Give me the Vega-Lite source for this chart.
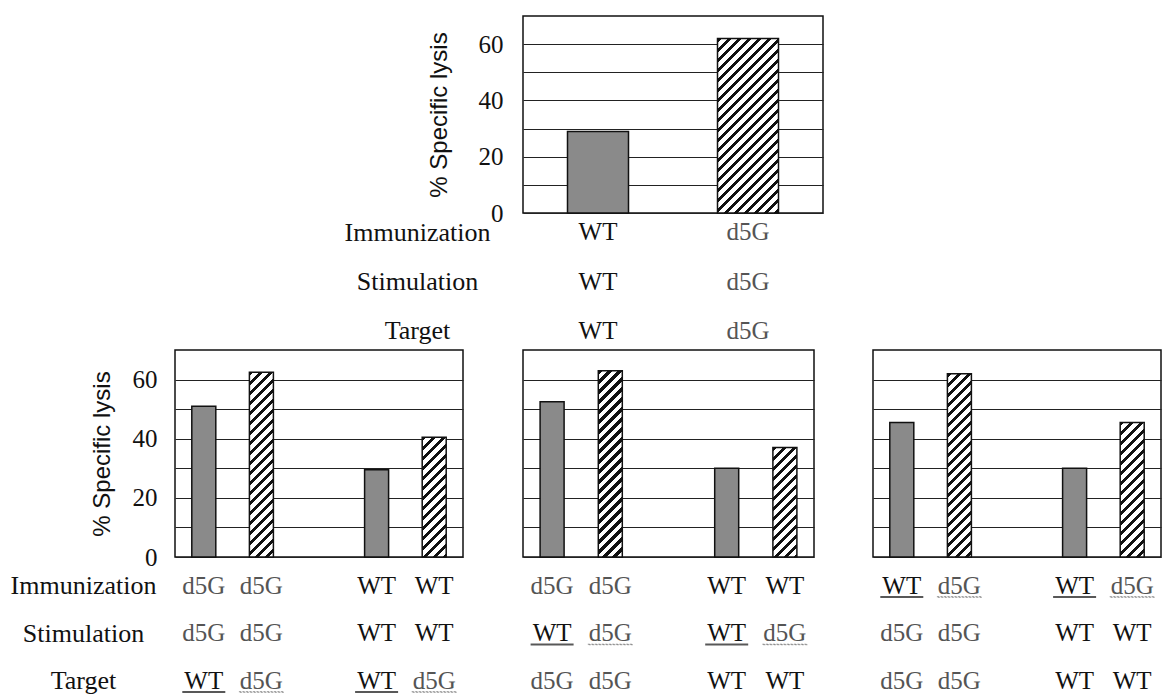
{
"$schema": "https://vega.github.io/schema/vega-lite/v6.json",
"background": "white",
"padding": {"left": 10, "top": 15, "right": 0, "bottom": 0},
"datasets": {
"top": [
{"slot": "WT", "Immunization": "WT", "Stimulation": "WT", "Target": "WT", "lysis": 29, "varied": "WT"},
{"slot": "d5G", "Immunization": "d5G", "Stimulation": "d5G", "Target": "d5G", "lysis": 62, "varied": "d5G"}
],
"p1": [
{"slot": "1", "Immunization": "d5G", "Stimulation": "d5G", "Target": "WT", "lysis": 51, "varied": "WT", "ul": "Target"},
{"slot": "2", "Immunization": "d5G", "Stimulation": "d5G", "Target": "d5G", "lysis": 62.5, "varied": "d5G", "ul": "Target"},
{"slot": "3", "Immunization": "WT", "Stimulation": "WT", "Target": "WT", "lysis": 29.5, "varied": "WT", "ul": "Target"},
{"slot": "4", "Immunization": "WT", "Stimulation": "WT", "Target": "d5G", "lysis": 40.5, "varied": "d5G", "ul": "Target"}
],
"p2": [
{"slot": "1", "Immunization": "d5G", "Stimulation": "WT", "Target": "d5G", "lysis": 52.5, "varied": "WT", "ul": "Stimulation"},
{"slot": "2", "Immunization": "d5G", "Stimulation": "d5G", "Target": "d5G", "lysis": 63, "varied": "d5G", "ul": "Stimulation"},
{"slot": "3", "Immunization": "WT", "Stimulation": "WT", "Target": "WT", "lysis": 30, "varied": "WT", "ul": "Stimulation"},
{"slot": "4", "Immunization": "WT", "Stimulation": "d5G", "Target": "WT", "lysis": 37, "varied": "d5G", "ul": "Stimulation"}
],
"p3": [
{"slot": "1", "Immunization": "WT", "Stimulation": "d5G", "Target": "d5G", "lysis": 45.5, "varied": "WT", "ul": "Immunization"},
{"slot": "2", "Immunization": "d5G", "Stimulation": "d5G", "Target": "d5G", "lysis": 62, "varied": "d5G", "ul": "Immunization"},
{"slot": "3", "Immunization": "WT", "Stimulation": "WT", "Target": "WT", "lysis": 30, "varied": "WT", "ul": "Immunization"},
{"slot": "4", "Immunization": "d5G", "Stimulation": "WT", "Target": "WT", "lysis": 45.5, "varied": "d5G", "ul": "Immunization"}
]
},
"columns": 3,
"spacing": {"row": 0, "column": 50},
"align": "each",
"bounds": "flush",
"concat": [
{"width": 298, "height": 1, "view": {"stroke": null}, "data": {"values": []}, "mark": "point", "encoding": {}},
{
"width": 300, "height": 197,
"data": {"name": "top"},
"encoding": {
"x": {"field": "slot", "type": "nominal", "scale": {"domain": ["WT", "d5G"], "paddingInner": 0, "paddingOuter": 0}, "axis": null},
"y": {"field": "lysis", "type": "quantitative", "scale": {"domain": [0, 70], "nice": false},
"axis": {"values": [0, 10, 20, 30, 40, 50, 60], "labelExpr": "datum.value % 20 == 0 ? datum.label : ''", "grid": true, "gridColor": "#222", "gridWidth": 1, "ticks": false, "tickSize": 0, "domain": false, "labelPadding": 20, "labelFontSize": 25, "labelColor": "#111", "labelFont": "Liberation Serif", "title": "% Specific lysis", "titleFont": "Liberation Sans", "titleFontSize": 24, "titleFontWeight": "normal", "titleColor": "#111", "titlePadding": 27}}
},
"layer": [
{"transform": [{"filter": "datum.varied == 'WT'"}], "mark": {"type": "bar", "width": 61, "fill": "#8a8a8a", "stroke": "#111", "strokeWidth": 1.5}},
{"transform": [{"filter": "datum.varied == 'd5G'"}], "mark": {"type": "bar", "width": 61, "stroke": "#111", "strokeWidth": 1.5, "fill": {"gradient": "linear", "x1": 0, "y1": 0, "x2": 0.44633, "y2": 1.27671, "stops": [{"offset":0,"color":"#111"},{"offset":0.017,"color":"#111"},{"offset":0.017,"color":"#fff"},{"offset":0.04,"color":"#fff"},{"offset":0.04,"color":"#111"},{"offset":0.057,"color":"#111"},{"offset":0.057,"color":"#fff"},{"offset":0.08,"color":"#fff"},{"offset":0.08,"color":"#111"},{"offset":0.097,"color":"#111"},{"offset":0.097,"color":"#fff"},{"offset":0.12,"color":"#fff"},{"offset":0.12,"color":"#111"},{"offset":0.137,"color":"#111"},{"offset":0.137,"color":"#fff"},{"offset":0.16,"color":"#fff"},{"offset":0.16,"color":"#111"},{"offset":0.177,"color":"#111"},{"offset":0.177,"color":"#fff"},{"offset":0.2,"color":"#fff"},{"offset":0.2,"color":"#111"},{"offset":0.217,"color":"#111"},{"offset":0.217,"color":"#fff"},{"offset":0.24,"color":"#fff"},{"offset":0.24,"color":"#111"},{"offset":0.257,"color":"#111"},{"offset":0.257,"color":"#fff"},{"offset":0.28,"color":"#fff"},{"offset":0.28,"color":"#111"},{"offset":0.297,"color":"#111"},{"offset":0.297,"color":"#fff"},{"offset":0.32,"color":"#fff"},{"offset":0.32,"color":"#111"},{"offset":0.337,"color":"#111"},{"offset":0.337,"color":"#fff"},{"offset":0.36,"color":"#fff"},{"offset":0.36,"color":"#111"},{"offset":0.377,"color":"#111"},{"offset":0.377,"color":"#fff"},{"offset":0.4,"color":"#fff"},{"offset":0.4,"color":"#111"},{"offset":0.417,"color":"#111"},{"offset":0.417,"color":"#fff"},{"offset":0.44,"color":"#fff"},{"offset":0.44,"color":"#111"},{"offset":0.457,"color":"#111"},{"offset":0.457,"color":"#fff"},{"offset":0.48,"color":"#fff"},{"offset":0.48,"color":"#111"},{"offset":0.497,"color":"#111"},{"offset":0.497,"color":"#fff"},{"offset":0.52,"color":"#fff"},{"offset":0.52,"color":"#111"},{"offset":0.537,"color":"#111"},{"offset":0.537,"color":"#fff"},{"offset":0.56,"color":"#fff"},{"offset":0.56,"color":"#111"},{"offset":0.577,"color":"#111"},{"offset":0.577,"color":"#fff"},{"offset":0.6,"color":"#fff"},{"offset":0.6,"color":"#111"},{"offset":0.617,"color":"#111"},{"offset":0.617,"color":"#fff"},{"offset":0.64,"color":"#fff"},{"offset":0.64,"color":"#111"},{"offset":0.657,"color":"#111"},{"offset":0.657,"color":"#fff"},{"offset":0.68,"color":"#fff"},{"offset":0.68,"color":"#111"},{"offset":0.697,"color":"#111"},{"offset":0.697,"color":"#fff"},{"offset":0.72,"color":"#fff"},{"offset":0.72,"color":"#111"},{"offset":0.737,"color":"#111"},{"offset":0.737,"color":"#fff"},{"offset":0.76,"color":"#fff"},{"offset":0.76,"color":"#111"},{"offset":0.777,"color":"#111"},{"offset":0.777,"color":"#fff"},{"offset":0.8,"color":"#fff"},{"offset":0.8,"color":"#111"},{"offset":0.817,"color":"#111"},{"offset":0.817,"color":"#fff"},{"offset":0.84,"color":"#fff"},{"offset":0.84,"color":"#111"},{"offset":0.857,"color":"#111"},{"offset":0.857,"color":"#fff"},{"offset":0.88,"color":"#fff"},{"offset":0.88,"color":"#111"},{"offset":0.897,"color":"#111"},{"offset":0.897,"color":"#fff"},{"offset":0.92,"color":"#fff"},{"offset":0.92,"color":"#111"},{"offset":0.937,"color":"#111"},{"offset":0.937,"color":"#fff"},{"offset":0.96,"color":"#fff"},{"offset":0.96,"color":"#111"},{"offset":0.977,"color":"#111"},{"offset":0.977,"color":"#fff"},{"offset":1,"color":"#fff"}]}}}
]
},
{"width": 1, "height": 1, "view": {"stroke": null}, "data": {"values": []}, "mark": "point", "encoding": {}},
{"width": 298, "height": 1, "view": {"stroke": null}, "data": {"values": []}, "mark": "point", "encoding": {}},
{
"width": 300, "height": 137, "view": {"stroke": null},
"data": {"name": "top"},
"transform": [{"fold": ["Immunization", "Stimulation", "Target"], "as": ["row", "val"]}],
"mark": {"type": "text", "fontSize": 25, "font": "Liberation Serif", "baseline": "middle"},
"encoding": {
"x": {"field": "slot", "type": "nominal", "scale": {"domain": ["WT", "d5G"], "paddingInner": 0, "paddingOuter": 0}, "axis": null},
"y": {"field": "row", "type": "nominal", "scale": {"type": "point", "domain": ["Immunization", "Stimulation", "Target"], "padding": 0.384}, "axis": {"title": null, "domain": false, "ticks": false, "tickSize": 0, "grid": false, "labelAlign": "center", "labelPadding": 106, "labelFontSize": 26, "labelFont": "Liberation Serif", "labelColor": "#111"}},
"text": {"field": "val"},
"color": {"field": "val", "type": "nominal", "scale": {"domain": ["WT", "d5G"], "range": ["#111", "#555"]}, "legend": null}
}
},
{"width": 1, "height": 1, "view": {"stroke": null}, "data": {"values": []}, "mark": "point", "encoding": {}},
{
"width": 288, "height": 207,
"data": {"name": "p1"},
"encoding": {
"x": {"field": "slot", "type": "nominal", "scale": {"domain": ["1", "2", "g", "3", "4"], "paddingInner": 0, "paddingOuter": 0}, "axis": null},
"y": {"field": "lysis", "type": "quantitative", "scale": {"domain": [0, 70], "nice": false},
"axis": {"values": [0, 10, 20, 30, 40, 50, 60], "labelExpr": "datum.value % 20 == 0 ? datum.label : ''", "grid": true, "gridColor": "#222", "gridWidth": 1, "ticks": false, "tickSize": 0, "domain": false, "labelPadding": 18, "labelFontSize": 25, "labelColor": "#111", "labelFont": "Liberation Serif", "title": "% Specific lysis", "titleFont": "Liberation Sans", "titleFontSize": 24, "titleFontWeight": "normal", "titleColor": "#111", "titlePadding": 18}}
},
"layer": [
{"transform": [{"filter": "datum.varied == 'WT'"}], "mark": {"type": "bar", "width": 24, "fill": "#8a8a8a", "stroke": "#111", "strokeWidth": 1.5}},
{"transform": [{"filter": "datum.slot == '2'"}], "mark": {"type": "bar", "width": 24, "stroke": "#111", "strokeWidth": 1.5, "fill": {"gradient": "linear", "x1": 0, "y1": 0, "x2": 0.17274, "y2": 1.33024, "stops": [{"offset":0,"color":"#111"},{"offset":0.017,"color":"#111"},{"offset":0.017,"color":"#fff"},{"offset":0.04,"color":"#fff"},{"offset":0.04,"color":"#111"},{"offset":0.057,"color":"#111"},{"offset":0.057,"color":"#fff"},{"offset":0.08,"color":"#fff"},{"offset":0.08,"color":"#111"},{"offset":0.097,"color":"#111"},{"offset":0.097,"color":"#fff"},{"offset":0.12,"color":"#fff"},{"offset":0.12,"color":"#111"},{"offset":0.137,"color":"#111"},{"offset":0.137,"color":"#fff"},{"offset":0.16,"color":"#fff"},{"offset":0.16,"color":"#111"},{"offset":0.177,"color":"#111"},{"offset":0.177,"color":"#fff"},{"offset":0.2,"color":"#fff"},{"offset":0.2,"color":"#111"},{"offset":0.217,"color":"#111"},{"offset":0.217,"color":"#fff"},{"offset":0.24,"color":"#fff"},{"offset":0.24,"color":"#111"},{"offset":0.257,"color":"#111"},{"offset":0.257,"color":"#fff"},{"offset":0.28,"color":"#fff"},{"offset":0.28,"color":"#111"},{"offset":0.297,"color":"#111"},{"offset":0.297,"color":"#fff"},{"offset":0.32,"color":"#fff"},{"offset":0.32,"color":"#111"},{"offset":0.337,"color":"#111"},{"offset":0.337,"color":"#fff"},{"offset":0.36,"color":"#fff"},{"offset":0.36,"color":"#111"},{"offset":0.377,"color":"#111"},{"offset":0.377,"color":"#fff"},{"offset":0.4,"color":"#fff"},{"offset":0.4,"color":"#111"},{"offset":0.417,"color":"#111"},{"offset":0.417,"color":"#fff"},{"offset":0.44,"color":"#fff"},{"offset":0.44,"color":"#111"},{"offset":0.457,"color":"#111"},{"offset":0.457,"color":"#fff"},{"offset":0.48,"color":"#fff"},{"offset":0.48,"color":"#111"},{"offset":0.497,"color":"#111"},{"offset":0.497,"color":"#fff"},{"offset":0.52,"color":"#fff"},{"offset":0.52,"color":"#111"},{"offset":0.537,"color":"#111"},{"offset":0.537,"color":"#fff"},{"offset":0.56,"color":"#fff"},{"offset":0.56,"color":"#111"},{"offset":0.577,"color":"#111"},{"offset":0.577,"color":"#fff"},{"offset":0.6,"color":"#fff"},{"offset":0.6,"color":"#111"},{"offset":0.617,"color":"#111"},{"offset":0.617,"color":"#fff"},{"offset":0.64,"color":"#fff"},{"offset":0.64,"color":"#111"},{"offset":0.657,"color":"#111"},{"offset":0.657,"color":"#fff"},{"offset":0.68,"color":"#fff"},{"offset":0.68,"color":"#111"},{"offset":0.697,"color":"#111"},{"offset":0.697,"color":"#fff"},{"offset":0.72,"color":"#fff"},{"offset":0.72,"color":"#111"},{"offset":0.737,"color":"#111"},{"offset":0.737,"color":"#fff"},{"offset":0.76,"color":"#fff"},{"offset":0.76,"color":"#111"},{"offset":0.777,"color":"#111"},{"offset":0.777,"color":"#fff"},{"offset":0.8,"color":"#fff"},{"offset":0.8,"color":"#111"},{"offset":0.817,"color":"#111"},{"offset":0.817,"color":"#fff"},{"offset":0.84,"color":"#fff"},{"offset":0.84,"color":"#111"},{"offset":0.857,"color":"#111"},{"offset":0.857,"color":"#fff"},{"offset":0.88,"color":"#fff"}]}}},
{"transform": [{"filter": "datum.slot == '4'"}], "mark": {"type": "bar", "width": 24, "stroke": "#111", "strokeWidth": 1.5, "fill": {"gradient": "linear", "x1": 0, "y1": 0, "x2": 0.40219, "y2": 2.00694, "stops": [{"offset":0,"color":"#111"},{"offset":0.017,"color":"#111"},{"offset":0.017,"color":"#fff"},{"offset":0.04,"color":"#fff"},{"offset":0.04,"color":"#111"},{"offset":0.057,"color":"#111"},{"offset":0.057,"color":"#fff"},{"offset":0.08,"color":"#fff"},{"offset":0.08,"color":"#111"},{"offset":0.097,"color":"#111"},{"offset":0.097,"color":"#fff"},{"offset":0.12,"color":"#fff"},{"offset":0.12,"color":"#111"},{"offset":0.137,"color":"#111"},{"offset":0.137,"color":"#fff"},{"offset":0.16,"color":"#fff"},{"offset":0.16,"color":"#111"},{"offset":0.177,"color":"#111"},{"offset":0.177,"color":"#fff"},{"offset":0.2,"color":"#fff"},{"offset":0.2,"color":"#111"},{"offset":0.217,"color":"#111"},{"offset":0.217,"color":"#fff"},{"offset":0.24,"color":"#fff"},{"offset":0.24,"color":"#111"},{"offset":0.257,"color":"#111"},{"offset":0.257,"color":"#fff"},{"offset":0.28,"color":"#fff"},{"offset":0.28,"color":"#111"},{"offset":0.297,"color":"#111"},{"offset":0.297,"color":"#fff"},{"offset":0.32,"color":"#fff"},{"offset":0.32,"color":"#111"},{"offset":0.337,"color":"#111"},{"offset":0.337,"color":"#fff"},{"offset":0.36,"color":"#fff"},{"offset":0.36,"color":"#111"},{"offset":0.377,"color":"#111"},{"offset":0.377,"color":"#fff"},{"offset":0.4,"color":"#fff"},{"offset":0.4,"color":"#111"},{"offset":0.417,"color":"#111"},{"offset":0.417,"color":"#fff"},{"offset":0.44,"color":"#fff"},{"offset":0.44,"color":"#111"},{"offset":0.457,"color":"#111"},{"offset":0.457,"color":"#fff"},{"offset":0.48,"color":"#fff"},{"offset":0.48,"color":"#111"},{"offset":0.497,"color":"#111"},{"offset":0.497,"color":"#fff"},{"offset":0.52,"color":"#fff"},{"offset":0.52,"color":"#111"},{"offset":0.537,"color":"#111"},{"offset":0.537,"color":"#fff"},{"offset":0.56,"color":"#fff"},{"offset":0.56,"color":"#111"},{"offset":0.577,"color":"#111"},{"offset":0.577,"color":"#fff"},{"offset":0.6,"color":"#fff"},{"offset":0.6,"color":"#111"},{"offset":0.617,"color":"#111"},{"offset":0.617,"color":"#fff"},{"offset":0.64,"color":"#fff"}]}}}
]
},
{
"width": 291, "height": 207,
"data": {"name": "p2"},
"encoding": {
"x": {"field": "slot", "type": "nominal", "scale": {"domain": ["1", "2", "g", "3", "4"], "paddingInner": 0, "paddingOuter": 0}, "axis": null},
"y": {"field": "lysis", "type": "quantitative", "scale": {"domain": [0, 70], "nice": false},
"axis": {"values": [0, 10, 20, 30, 40, 50, 60], "grid": true, "gridColor": "#222", "gridWidth": 1, "labels": false, "ticks": false, "tickSize": 0, "domain": false, "title": null}}
},
"layer": [
{"transform": [{"filter": "datum.varied == 'WT'"}], "mark": {"type": "bar", "width": 24, "fill": "#8a8a8a", "stroke": "#111", "strokeWidth": 1.5}},
{"transform": [{"filter": "datum.slot == '2'"}], "mark": {"type": "bar", "width": 24, "stroke": "#111", "strokeWidth": 1.5, "fill": {"gradient": "linear", "x1": 0, "y1": 0, "x2": 0.17005, "y2": 1.31999, "stops": [{"offset":0,"color":"#111"},{"offset":0.017,"color":"#111"},{"offset":0.017,"color":"#fff"},{"offset":0.04,"color":"#fff"},{"offset":0.04,"color":"#111"},{"offset":0.057,"color":"#111"},{"offset":0.057,"color":"#fff"},{"offset":0.08,"color":"#fff"},{"offset":0.08,"color":"#111"},{"offset":0.097,"color":"#111"},{"offset":0.097,"color":"#fff"},{"offset":0.12,"color":"#fff"},{"offset":0.12,"color":"#111"},{"offset":0.137,"color":"#111"},{"offset":0.137,"color":"#fff"},{"offset":0.16,"color":"#fff"},{"offset":0.16,"color":"#111"},{"offset":0.177,"color":"#111"},{"offset":0.177,"color":"#fff"},{"offset":0.2,"color":"#fff"},{"offset":0.2,"color":"#111"},{"offset":0.217,"color":"#111"},{"offset":0.217,"color":"#fff"},{"offset":0.24,"color":"#fff"},{"offset":0.24,"color":"#111"},{"offset":0.257,"color":"#111"},{"offset":0.257,"color":"#fff"},{"offset":0.28,"color":"#fff"},{"offset":0.28,"color":"#111"},{"offset":0.297,"color":"#111"},{"offset":0.297,"color":"#fff"},{"offset":0.32,"color":"#fff"},{"offset":0.32,"color":"#111"},{"offset":0.337,"color":"#111"},{"offset":0.337,"color":"#fff"},{"offset":0.36,"color":"#fff"},{"offset":0.36,"color":"#111"},{"offset":0.377,"color":"#111"},{"offset":0.377,"color":"#fff"},{"offset":0.4,"color":"#fff"},{"offset":0.4,"color":"#111"},{"offset":0.417,"color":"#111"},{"offset":0.417,"color":"#fff"},{"offset":0.44,"color":"#fff"},{"offset":0.44,"color":"#111"},{"offset":0.457,"color":"#111"},{"offset":0.457,"color":"#fff"},{"offset":0.48,"color":"#fff"},{"offset":0.48,"color":"#111"},{"offset":0.497,"color":"#111"},{"offset":0.497,"color":"#fff"},{"offset":0.52,"color":"#fff"},{"offset":0.52,"color":"#111"},{"offset":0.537,"color":"#111"},{"offset":0.537,"color":"#fff"},{"offset":0.56,"color":"#fff"},{"offset":0.56,"color":"#111"},{"offset":0.577,"color":"#111"},{"offset":0.577,"color":"#fff"},{"offset":0.6,"color":"#fff"},{"offset":0.6,"color":"#111"},{"offset":0.617,"color":"#111"},{"offset":0.617,"color":"#fff"},{"offset":0.64,"color":"#fff"},{"offset":0.64,"color":"#111"},{"offset":0.657,"color":"#111"},{"offset":0.657,"color":"#fff"},{"offset":0.68,"color":"#fff"},{"offset":0.68,"color":"#111"},{"offset":0.697,"color":"#111"},{"offset":0.697,"color":"#fff"},{"offset":0.72,"color":"#fff"},{"offset":0.72,"color":"#111"},{"offset":0.737,"color":"#111"},{"offset":0.737,"color":"#fff"},{"offset":0.76,"color":"#fff"},{"offset":0.76,"color":"#111"},{"offset":0.777,"color":"#111"},{"offset":0.777,"color":"#fff"},{"offset":0.8,"color":"#fff"},{"offset":0.8,"color":"#111"},{"offset":0.817,"color":"#111"},{"offset":0.817,"color":"#fff"},{"offset":0.84,"color":"#fff"},{"offset":0.84,"color":"#111"},{"offset":0.857,"color":"#111"},{"offset":0.857,"color":"#fff"},{"offset":0.88,"color":"#fff"}]}}},
{"transform": [{"filter": "datum.slot == '4'"}], "mark": {"type": "bar", "width": 24, "stroke": "#111", "strokeWidth": 1.5, "fill": {"gradient": "linear", "x1": 0, "y1": 0, "x2": 0.47822, "y2": 2.18009, "stops": [{"offset":0,"color":"#111"},{"offset":0.017,"color":"#111"},{"offset":0.017,"color":"#fff"},{"offset":0.04,"color":"#fff"},{"offset":0.04,"color":"#111"},{"offset":0.057,"color":"#111"},{"offset":0.057,"color":"#fff"},{"offset":0.08,"color":"#fff"},{"offset":0.08,"color":"#111"},{"offset":0.097,"color":"#111"},{"offset":0.097,"color":"#fff"},{"offset":0.12,"color":"#fff"},{"offset":0.12,"color":"#111"},{"offset":0.137,"color":"#111"},{"offset":0.137,"color":"#fff"},{"offset":0.16,"color":"#fff"},{"offset":0.16,"color":"#111"},{"offset":0.177,"color":"#111"},{"offset":0.177,"color":"#fff"},{"offset":0.2,"color":"#fff"},{"offset":0.2,"color":"#111"},{"offset":0.217,"color":"#111"},{"offset":0.217,"color":"#fff"},{"offset":0.24,"color":"#fff"},{"offset":0.24,"color":"#111"},{"offset":0.257,"color":"#111"},{"offset":0.257,"color":"#fff"},{"offset":0.28,"color":"#fff"},{"offset":0.28,"color":"#111"},{"offset":0.297,"color":"#111"},{"offset":0.297,"color":"#fff"},{"offset":0.32,"color":"#fff"},{"offset":0.32,"color":"#111"},{"offset":0.337,"color":"#111"},{"offset":0.337,"color":"#fff"},{"offset":0.36,"color":"#fff"},{"offset":0.36,"color":"#111"},{"offset":0.377,"color":"#111"},{"offset":0.377,"color":"#fff"},{"offset":0.4,"color":"#fff"},{"offset":0.4,"color":"#111"},{"offset":0.417,"color":"#111"},{"offset":0.417,"color":"#fff"},{"offset":0.44,"color":"#fff"},{"offset":0.44,"color":"#111"},{"offset":0.457,"color":"#111"},{"offset":0.457,"color":"#fff"},{"offset":0.48,"color":"#fff"},{"offset":0.48,"color":"#111"},{"offset":0.497,"color":"#111"},{"offset":0.497,"color":"#fff"},{"offset":0.52,"color":"#fff"},{"offset":0.52,"color":"#111"},{"offset":0.537,"color":"#111"},{"offset":0.537,"color":"#fff"},{"offset":0.56,"color":"#fff"},{"offset":0.56,"color":"#111"},{"offset":0.577,"color":"#111"},{"offset":0.577,"color":"#fff"},{"offset":0.6,"color":"#fff"}]}}}
]
},
{
"width": 288, "height": 207,
"data": {"name": "p3"},
"encoding": {
"x": {"field": "slot", "type": "nominal", "scale": {"domain": ["1", "2", "g", "3", "4"], "paddingInner": 0, "paddingOuter": 0}, "axis": null},
"y": {"field": "lysis", "type": "quantitative", "scale": {"domain": [0, 70], "nice": false},
"axis": {"values": [0, 10, 20, 30, 40, 50, 60], "grid": true, "gridColor": "#222", "gridWidth": 1, "labels": false, "ticks": false, "tickSize": 0, "domain": false, "title": null}}
},
"layer": [
{"transform": [{"filter": "datum.varied == 'WT'"}], "mark": {"type": "bar", "width": 24, "fill": "#8a8a8a", "stroke": "#111", "strokeWidth": 1.5}},
{"transform": [{"filter": "datum.slot == '2'"}], "mark": {"type": "bar", "width": 24, "stroke": "#111", "strokeWidth": 1.5, "fill": {"gradient": "linear", "x1": 0, "y1": 0, "x2": 0.17549, "y2": 1.34062, "stops": [{"offset":0,"color":"#111"},{"offset":0.017,"color":"#111"},{"offset":0.017,"color":"#fff"},{"offset":0.04,"color":"#fff"},{"offset":0.04,"color":"#111"},{"offset":0.057,"color":"#111"},{"offset":0.057,"color":"#fff"},{"offset":0.08,"color":"#fff"},{"offset":0.08,"color":"#111"},{"offset":0.097,"color":"#111"},{"offset":0.097,"color":"#fff"},{"offset":0.12,"color":"#fff"},{"offset":0.12,"color":"#111"},{"offset":0.137,"color":"#111"},{"offset":0.137,"color":"#fff"},{"offset":0.16,"color":"#fff"},{"offset":0.16,"color":"#111"},{"offset":0.177,"color":"#111"},{"offset":0.177,"color":"#fff"},{"offset":0.2,"color":"#fff"},{"offset":0.2,"color":"#111"},{"offset":0.217,"color":"#111"},{"offset":0.217,"color":"#fff"},{"offset":0.24,"color":"#fff"},{"offset":0.24,"color":"#111"},{"offset":0.257,"color":"#111"},{"offset":0.257,"color":"#fff"},{"offset":0.28,"color":"#fff"},{"offset":0.28,"color":"#111"},{"offset":0.297,"color":"#111"},{"offset":0.297,"color":"#fff"},{"offset":0.32,"color":"#fff"},{"offset":0.32,"color":"#111"},{"offset":0.337,"color":"#111"},{"offset":0.337,"color":"#fff"},{"offset":0.36,"color":"#fff"},{"offset":0.36,"color":"#111"},{"offset":0.377,"color":"#111"},{"offset":0.377,"color":"#fff"},{"offset":0.4,"color":"#fff"},{"offset":0.4,"color":"#111"},{"offset":0.417,"color":"#111"},{"offset":0.417,"color":"#fff"},{"offset":0.44,"color":"#fff"},{"offset":0.44,"color":"#111"},{"offset":0.457,"color":"#111"},{"offset":0.457,"color":"#fff"},{"offset":0.48,"color":"#fff"},{"offset":0.48,"color":"#111"},{"offset":0.497,"color":"#111"},{"offset":0.497,"color":"#fff"},{"offset":0.52,"color":"#fff"},{"offset":0.52,"color":"#111"},{"offset":0.537,"color":"#111"},{"offset":0.537,"color":"#fff"},{"offset":0.56,"color":"#fff"},{"offset":0.56,"color":"#111"},{"offset":0.577,"color":"#111"},{"offset":0.577,"color":"#fff"},{"offset":0.6,"color":"#fff"},{"offset":0.6,"color":"#111"},{"offset":0.617,"color":"#111"},{"offset":0.617,"color":"#fff"},{"offset":0.64,"color":"#fff"},{"offset":0.64,"color":"#111"},{"offset":0.657,"color":"#111"},{"offset":0.657,"color":"#fff"},{"offset":0.68,"color":"#fff"},{"offset":0.68,"color":"#111"},{"offset":0.697,"color":"#111"},{"offset":0.697,"color":"#fff"},{"offset":0.72,"color":"#fff"},{"offset":0.72,"color":"#111"},{"offset":0.737,"color":"#111"},{"offset":0.737,"color":"#fff"},{"offset":0.76,"color":"#fff"},{"offset":0.76,"color":"#111"},{"offset":0.777,"color":"#111"},{"offset":0.777,"color":"#fff"},{"offset":0.8,"color":"#fff"},{"offset":0.8,"color":"#111"},{"offset":0.817,"color":"#111"},{"offset":0.817,"color":"#fff"},{"offset":0.84,"color":"#fff"},{"offset":0.84,"color":"#111"},{"offset":0.857,"color":"#111"},{"offset":0.857,"color":"#fff"},{"offset":0.88,"color":"#fff"}]}}},
{"transform": [{"filter": "datum.slot == '4'"}], "mark": {"type": "bar", "width": 24, "stroke": "#111", "strokeWidth": 1.5, "fill": {"gradient": "linear", "x1": 0, "y1": 0, "x2": 0.32120, "y2": 1.80074, "stops": [{"offset":0,"color":"#111"},{"offset":0.017,"color":"#111"},{"offset":0.017,"color":"#fff"},{"offset":0.04,"color":"#fff"},{"offset":0.04,"color":"#111"},{"offset":0.057,"color":"#111"},{"offset":0.057,"color":"#fff"},{"offset":0.08,"color":"#fff"},{"offset":0.08,"color":"#111"},{"offset":0.097,"color":"#111"},{"offset":0.097,"color":"#fff"},{"offset":0.12,"color":"#fff"},{"offset":0.12,"color":"#111"},{"offset":0.137,"color":"#111"},{"offset":0.137,"color":"#fff"},{"offset":0.16,"color":"#fff"},{"offset":0.16,"color":"#111"},{"offset":0.177,"color":"#111"},{"offset":0.177,"color":"#fff"},{"offset":0.2,"color":"#fff"},{"offset":0.2,"color":"#111"},{"offset":0.217,"color":"#111"},{"offset":0.217,"color":"#fff"},{"offset":0.24,"color":"#fff"},{"offset":0.24,"color":"#111"},{"offset":0.257,"color":"#111"},{"offset":0.257,"color":"#fff"},{"offset":0.28,"color":"#fff"},{"offset":0.28,"color":"#111"},{"offset":0.297,"color":"#111"},{"offset":0.297,"color":"#fff"},{"offset":0.32,"color":"#fff"},{"offset":0.32,"color":"#111"},{"offset":0.337,"color":"#111"},{"offset":0.337,"color":"#fff"},{"offset":0.36,"color":"#fff"},{"offset":0.36,"color":"#111"},{"offset":0.377,"color":"#111"},{"offset":0.377,"color":"#fff"},{"offset":0.4,"color":"#fff"},{"offset":0.4,"color":"#111"},{"offset":0.417,"color":"#111"},{"offset":0.417,"color":"#fff"},{"offset":0.44,"color":"#fff"},{"offset":0.44,"color":"#111"},{"offset":0.457,"color":"#111"},{"offset":0.457,"color":"#fff"},{"offset":0.48,"color":"#fff"},{"offset":0.48,"color":"#111"},{"offset":0.497,"color":"#111"},{"offset":0.497,"color":"#fff"},{"offset":0.52,"color":"#fff"},{"offset":0.52,"color":"#111"},{"offset":0.537,"color":"#111"},{"offset":0.537,"color":"#fff"},{"offset":0.56,"color":"#fff"},{"offset":0.56,"color":"#111"},{"offset":0.577,"color":"#111"},{"offset":0.577,"color":"#fff"},{"offset":0.6,"color":"#fff"},{"offset":0.6,"color":"#111"},{"offset":0.617,"color":"#111"},{"offset":0.617,"color":"#fff"},{"offset":0.64,"color":"#fff"},{"offset":0.64,"color":"#111"},{"offset":0.657,"color":"#111"},{"offset":0.657,"color":"#fff"},{"offset":0.68,"color":"#fff"}]}}}
]
},
{
"width": 288, "height": 140, "view": {"stroke": null},
"data": {"name": "p1"},
"transform": [{"fold": ["Immunization", "Stimulation", "Target"], "as": ["row", "val"]}],
"encoding": {
"x": {"field": "slot", "type": "nominal", "scale": {"domain": ["1", "2", "g", "3", "4"], "paddingInner": 0, "paddingOuter": 0}, "axis": null},
"y": {"field": "row", "type": "nominal", "scale": {"type": "point", "domain": ["Immunization", "Stimulation", "Target"], "padding": 0.4737, "align": 0.644}, "axis": {"title": null, "domain": false, "ticks": false, "tickSize": 0, "grid": false, "labelAlign": "center", "labelPadding": 92, "labelFontSize": 26, "labelFont": "Liberation Serif", "labelColor": "#111"}}
},
"layer": [
{"mark": {"type": "text", "fontSize": 25, "font": "Liberation Serif", "baseline": "middle"},
"encoding": {"text": {"field": "val"}, "color": {"field": "val", "type": "nominal", "scale": {"domain": ["WT", "d5G"], "range": ["#111", "#555"]}, "legend": null}}},
{"transform": [{"filter": "datum.row == datum.ul && datum.val == 'WT'"}], "mark": {"type": "tick", "orient": "horizontal", "size": 43, "thickness": 2, "yOffset": 11, "color": "#111"}},
{"transform": [{"filter": "datum.row == datum.ul && datum.val == 'd5G'"}], "mark": {"type": "tick", "orient": "horizontal", "size": 45, "thickness": 0.5, "yOffset": 11, "filled": false, "stroke": "#666", "strokeWidth": 1, "strokeDash": [2, 1.5]}}
]
},
{
"width": 291, "height": 140, "view": {"stroke": null},
"data": {"name": "p2"},
"transform": [{"fold": ["Immunization", "Stimulation", "Target"], "as": ["row", "val"]}],
"encoding": {
"x": {"field": "slot", "type": "nominal", "scale": {"domain": ["1", "2", "g", "3", "4"], "paddingInner": 0, "paddingOuter": 0}, "axis": null},
"y": {"field": "row", "type": "nominal", "scale": {"type": "point", "domain": ["Immunization", "Stimulation", "Target"], "padding": 0.4737, "align": 0.644}, "axis": null}
},
"layer": [
{"mark": {"type": "text", "fontSize": 25, "font": "Liberation Serif", "baseline": "middle"},
"encoding": {"text": {"field": "val"}, "color": {"field": "val", "type": "nominal", "scale": {"domain": ["WT", "d5G"], "range": ["#111", "#555"]}, "legend": null}}},
{"transform": [{"filter": "datum.row == datum.ul && datum.val == 'WT'"}], "mark": {"type": "tick", "orient": "horizontal", "size": 43, "thickness": 2, "yOffset": 11, "color": "#111"}},
{"transform": [{"filter": "datum.row == datum.ul && datum.val == 'd5G'"}], "mark": {"type": "tick", "orient": "horizontal", "size": 45, "thickness": 0.5, "yOffset": 11, "filled": false, "stroke": "#666", "strokeWidth": 1, "strokeDash": [2, 1.5]}}
]
},
{
"width": 288, "height": 140, "view": {"stroke": null},
"data": {"name": "p3"},
"transform": [{"fold": ["Immunization", "Stimulation", "Target"], "as": ["row", "val"]}],
"encoding": {
"x": {"field": "slot", "type": "nominal", "scale": {"domain": ["1", "2", "g", "3", "4"], "paddingInner": 0, "paddingOuter": 0}, "axis": null},
"y": {"field": "row", "type": "nominal", "scale": {"type": "point", "domain": ["Immunization", "Stimulation", "Target"], "padding": 0.4737, "align": 0.644}, "axis": null}
},
"layer": [
{"mark": {"type": "text", "fontSize": 25, "font": "Liberation Serif", "baseline": "middle"},
"encoding": {"text": {"field": "val"}, "color": {"field": "val", "type": "nominal", "scale": {"domain": ["WT", "d5G"], "range": ["#111", "#555"]}, "legend": null}}},
{"transform": [{"filter": "datum.row == datum.ul && datum.val == 'WT'"}], "mark": {"type": "tick", "orient": "horizontal", "size": 43, "thickness": 2, "yOffset": 11, "color": "#111"}},
{"transform": [{"filter": "datum.row == datum.ul && datum.val == 'd5G'"}], "mark": {"type": "tick", "orient": "horizontal", "size": 45, "thickness": 0.5, "yOffset": 11, "filled": false, "stroke": "#666", "strokeWidth": 1, "strokeDash": [2, 1.5]}}
]
}
],
"config": {
"view": {"stroke": "#111", "strokeWidth": 1.5},
"font": "Liberation Serif"
}
}
